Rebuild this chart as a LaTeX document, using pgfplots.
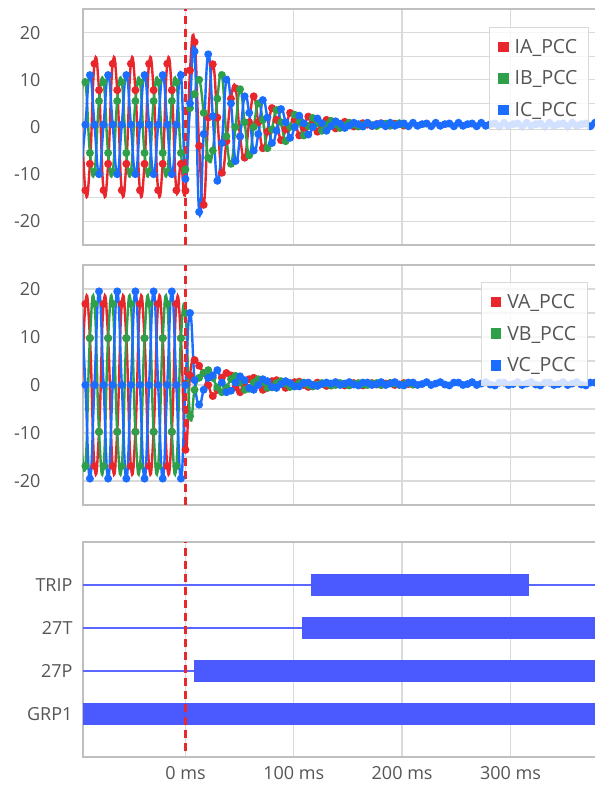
\documentclass[border=0pt]{standalone}
\usepackage{fontspec}
\setmainfont{Open Sans}
\usepackage{pgfplots}
\pgfplotsset{compat=1.18}
\definecolor{cRed}{HTML}{E8262B}
\definecolor{cGreen}{HTML}{2EA04A}
\definecolor{cBlue}{HTML}{1A6DFF}
\definecolor{cBar}{HTML}{4B5AFF}
\definecolor{cThin}{HTML}{5A68FF}
\definecolor{cGrid}{HTML}{DADADA}
\definecolor{cFrame}{HTML}{BFBFBF}
\definecolor{cTick}{HTML}{555555}
\definecolor{cDash}{HTML}{E8282B}

\pgfplotsset{
  panel/.style={scale only axis, width=515bp, xmin=-94.6, xmax=380.8,
    xtick={0,100,200,300}, tick style={draw=none},
    axis line style={cFrame, line width=1.5bp},
    major grid style={cGrid, line width=1.3bp},
    minor grid style={cGrid, line width=1.3bp},
    ticklabel style={font=\fontsize{18bp}{21bp}\selectfont, text=cTick}},
  wave/.style={panel, ymin=-25, ymax=25, xticklabels={},
    ytick={-20,-10,0,10,20}, yticklabels={-20,-10,0,10,20},
    minor ytick={-15,-5,5,15}, grid=both,
    yticklabel style={xshift=-39bp},
    legend cell align=left,
    legend image code/.code={\fill[#1, fill opacity=1] (0bp,-4.8bp) rectangle (9.6bp,4.8bp);},
    legend style={anchor=north east, draw=black!15, line width=1bp,
      fill=white, fill opacity=0.8, text opacity=1,
      font=\fontsize{19.5bp}{22bp}\selectfont, text=cTick,
      inner xsep=9bp, inner ysep=10bp, row sep=12bp,
      /tikz/every odd column/.append style={column sep=4bp}}},
  ser/.style={#1, line width=2.4bp, smooth, tension=0.8, mark=*, mark size=2.7bp,
    mark options={draw=#1, fill=#1}, forget plot},
  zero/.style={cDash, line width=2.2bp, dash pattern=on 8bp off 5bp, forget plot},
}

\begin{document}
\begin{tikzpicture}

% currents
\begin{axis}[wave, at={(83bp,542bp)}, anchor=south west, height=236bp,
  legend style={at={(0.9825,0.925)}}]
\addlegendimage{cRed}\addlegendentry{IA\_PCC}
\addlegendimage{cGreen}\addlegendentry{IB\_PCC}
\addlegendimage{cBlue}\addlegendentry{IC\_PCC}
\addplot[ser=cRed] coordinates {(-96.6,7.8)(-92.4,-13.4)(-88.2,-7.8)(-84,13.4)(-79.8,7.8)(-75.6,-13.4)(-71.4,-7.8)(-67.2,13.4)(-63,7.8)(-58.8,-13.4)(-54.6,-7.8)(-50.4,13.4)(-46.2,7.8)(-42,-13.4)(-37.8,-7.8)(-33.6,13.4)(-29.4,7.8)(-25.2,-13.4)(-21,-7.8)(-16.8,13.4)(-12.6,7.8)(-8.4,-13.4)(-4.2,-7.8)
(0,-13.5)(4.2,12)(8.4,18)(12.6,-4)(16.8,-16.5)(21,2)(25.2,13.3)(29.4,2)(33.6,-9.7)(37.8,-3)(42,6)(46.2,8.2)(50.4,-2)(54.6,-6.5)(58.8,1)(63,6.5)(67.2,1)(71.4,-4.5)(75.6,-1)(79.8,4)(84,1.5)(88.2,-2.8)(92.4,-0.5)(96.6,3)(100.8,1.5)(105,-1.8)(109.2,-0.2)(113.4,2.2)(117.6,1)(121.8,-1)(126,0)(130.2,1.5)(134.4,0.8)(138.6,-0.3)(142.8,0.2)(147,1.1)(151.2,0.7)(155.4,0.1)(159.6,0.4)(163.8,0.8)(168,0.5)(172.2,0.2)(176.4,0.6)(180.6,0.8)(184.8,0.3)(189,0.3)(193.2,0.7)(197.4,0.6)(201.6,0.3)};
\addplot[ser=cGreen] coordinates {(-96.6,5.5)(-92.4,9.5)(-88.2,-5.5)(-84,-9.5)(-79.8,5.5)(-75.6,9.5)(-71.4,-5.5)(-67.2,-9.5)(-63,5.5)(-58.8,9.5)(-54.6,-5.5)(-50.4,-9.5)(-46.2,5.5)(-42,9.5)(-37.8,-5.5)(-33.6,-9.5)(-29.4,5.5)(-25.2,9.5)(-21,-5.5)(-16.8,-9.5)(-12.6,5.5)(-8.4,9.5)(-4.2,-5.5)
(0,-9)(4.2,4)(8.4,7)(12.6,10)(16.8,3)(21,-6.5)(25.2,-5)(29.4,6)(33.6,11)(37.8,-2)(42,-7.8)(46.2,0)(50.4,8)(54.6,1)(58.8,-6)(63,0)(67.2,5)(71.4,1.5)(75.6,-4.5)(79.8,-0.5)(84,3.6)(88.2,1)(92.4,-3)(96.6,0)(100.8,2.6)(105,1)(109.2,-1.8)(113.4,0.2)(117.6,1.9)(121.8,0.8)(126,-0.8)(130.2,0.4)(134.4,1.3)(138.6,0.6)(142.8,-0.2)(147,0.3)(151.2,0.9)(155.4,0.5)(159.6,0.1)(163.8,0.4)(168,0.8)(172.2,0.4)(176.4,0.2)(180.6,0.6)(184.8,0.7)(189,0.3)(193.2,0.4)(197.4,0.8)(201.6,0.5)};
\addplot[ser=cBlue] coordinates {(-96.6,-10)(-92.4,0.5)(-88.2,11)(-84,0.5)(-79.8,-10)(-75.6,0.5)(-71.4,11)(-67.2,0.5)(-63,-10)(-58.8,0.5)(-54.6,11)(-50.4,0.5)(-46.2,-10)(-42,0.5)(-37.8,11)(-33.6,0.5)(-29.4,-10)(-25.2,0.5)(-21,11)(-16.8,0.5)(-12.6,-10)(-8.4,0.5)(-4.2,11)
(0,-11)(4.2,5)(8.4,16)(12.6,-18)(16.8,-1.5)(21,15.4)(25.2,2.3)(29.4,-11.4)(33.6,-3.4)(37.8,10)(42,5)(46.2,-7.2)(50.4,-2)(54.6,6.5)(58.8,3)(63,-5)(67.2,-1.5)(71.4,5.7)(75.6,2)(79.8,-3.4)(84,-0.8)(88.2,3.8)(92.4,1)(96.6,-2.3)(100.8,0)(105,2.4)(109.2,0.8)(113.4,-1.6)(117.6,0)(121.8,1.8)(126,0.8)(130.2,-0.8)(134.4,0.2)(138.6,1.2)(142.8,0.7)(147,-0.2)(151.2,0.3)(155.4,0.9)(159.6,0.6)(163.8,0.1)
(168,0.9)(172.2,0.25)(176.4,0.6)(180.6,0.75)(184.8,0.15)(189,0.9)(193.2,0.25)(197.4,0.6)(201.6,0.75)(205.8,0.15)(210,0.9)(214.2,0.25)(218.4,0.6)(222.6,0.75)(226.8,0.15)(231,0.9)(235.2,0.25)(239.4,0.6)(243.6,0.75)(247.8,0.15)(252,0.9)(256.2,0.25)(260.4,0.6)(264.6,0.75)(268.8,0.15)(273,0.9)(277.2,0.25)(281.4,0.6)(285.6,0.75)(289.8,0.15)(294,0.9)(298.2,0.25)(302.4,0.6)(306.6,0.75)(310.8,0.15)(315,0.9)(319.2,0.25)(323.4,0.6)(327.6,0.75)(331.8,0.15)(336,0.9)(340.2,0.25)(344.4,0.6)(348.6,0.75)(352.8,0.15)(357,0.9)(361.2,0.25)(365.4,0.6)(369.6,0.75)(373.8,0.15)(378,0.9)(382.2,0.25)};
\addplot[zero] coordinates {(0,-25) (0,25)};
\end{axis}

% voltages
\begin{axis}[wave, at={(83bp,282bp)}, anchor=south west, height=240bp,
  legend style={at={(0.98,0.93)}}]
\addlegendimage{cRed}\addlegendentry{VA\_PCC}
\addlegendimage{cGreen}\addlegendentry{VB\_PCC}
\addlegendimage{cBlue}\addlegendentry{VC\_PCC}
\addplot[ser=cRed] coordinates {(-96.6,-9.75)(-92.4,16.9)(-88.2,9.75)(-84,-16.9)(-79.8,-9.75)(-75.6,16.9)(-71.4,9.75)(-67.2,-16.9)(-63,-9.75)(-58.8,16.9)(-54.6,9.75)(-50.4,-16.9)(-46.2,-9.75)(-42,16.9)(-37.8,9.75)(-33.6,-16.9)(-29.4,-9.75)(-25.2,16.9)(-21,9.75)(-16.8,-16.9)(-12.6,-9.75)(-8.4,16.9)(-4.2,9.75)
(0,-13.5)(4.2,2)(8.4,5.2)(12.6,4)(16.8,2.5)(21,0)(25.2,-2.3)(29.4,-1)(33.6,1.5)(37.8,2.5)(42,2)(46.2,-0.5)(50.4,-1.5)(54.6,-0.5)(58.8,1.2)(63,1.5)(67.2,0.2)(71.4,-1)(75.6,-0.6)(79.8,0.8)(84,1)(88.2,0.2)(92.4,-0.6)(96.6,-0.2)(100.8,0.6)(105,0.7)(109.2,0)(113.4,-0.4)(117.6,0)(121.8,0.5)(126,0.3)(130.2,-0.2)(134.4,-0.1)(138.6,0.4)(142.8,0.3)(147,-0.1)(151.2,0.1)(155.4,0.4)(159.6,0.2)(163.8,-0.1)(168,0.2)(172.2,0.4)(176.4,0.1)(180.6,0)(184.8,0.3)(189,0.4)(193.2,0)(197.4,0.1)(201.6,0.4)(205.8,0.2)(210,0.1)};
\addplot[ser=cGreen] coordinates {(-96.6,-9.75)(-92.4,-16.9)(-88.2,9.75)(-84,16.9)(-79.8,-9.75)(-75.6,-16.9)(-71.4,9.75)(-67.2,16.9)(-63,-9.75)(-58.8,-16.9)(-54.6,9.75)(-50.4,16.9)(-46.2,-9.75)(-42,-16.9)(-37.8,9.75)(-33.6,16.9)(-29.4,-9.75)(-25.2,-16.9)(-21,9.75)(-16.8,16.9)(-12.6,-9.75)(-8.4,-16.9)(-4.2,9.75)
(0,15)(4.2,-6.5)(8.4,-1)(12.6,1.5)(16.8,2.5)(21,3.1)(25.2,1.5)(29.4,-0.5)(33.6,-1.5)(37.8,-0.5)(42,1.2)(46.2,1.9)(50.4,0.5)(54.6,-1)(58.8,-0.8)(63,0.5)(67.2,1.2)(71.4,0.6)(75.6,-0.6)(79.8,-0.5)(84,0.4)(88.2,0.8)(92.4,0.3)(96.6,-0.4)(100.8,-0.2)(105,0.4)(109.2,0.5)(113.4,0)(117.6,-0.3)(121.8,0.1)(126,0.4)(130.2,0.3)(134.4,-0.1)(138.6,0)(142.8,0.4)(147,0.2)(151.2,-0.1)(155.4,0.2)(159.6,0.4)(163.8,0.1)(168,0)(172.2,0.3)(176.4,0.4)(180.6,0)(184.8,0.1)(189,0.4)(193.2,0.3)(197.4,0)(201.6,0.2)(205.8,0.4)(210,0.1)};
\addplot[ser=cBlue] coordinates {(-96.6,19.5)(-92.4,0)(-88.2,-19.5)(-84,0)(-79.8,19.5)(-75.6,0)(-71.4,-19.5)(-67.2,0)(-63,19.5)(-58.8,0)(-54.6,-19.5)(-50.4,0)(-46.2,19.5)(-42,0)(-37.8,-19.5)(-33.6,0)(-29.4,19.5)(-25.2,0)(-21,-19.5)(-16.8,0)(-12.6,19.5)(-8.4,0)(-4.2,-19.5)
(0,0)(4.2,15)(8.4,1)(12.6,-4.1)(16.8,-1)(21,1.5)(25.2,2)(29.4,3.1)(33.6,0.5)(37.8,-1.5)(42,-1.2)(46.2,0.5)(50.4,1.8)(54.6,1)(58.8,-0.6)(63,-1)(67.2,0)(71.4,1.2)(75.6,0.8)(79.8,-0.4)(84,-0.6)(88.2,0.2)(92.4,0.8)(96.6,0.4)(100.8,-0.3)(105,-0.3)(109.2,0.4)(113.4,0.5)(117.6,0)(121.8,-0.2)(126,0.2)(130.2,0.5)(134.4,0.3)
(138.6,0.6)(142.8,0)(147,0.3)(151.2,0.6)(155.4,0.1)(159.6,-0.1)(163.8,0.5)(168,0.5)(172.2,0)(176.4,0.2)(180.6,0.6)(184.8,0)(189,0.3)(193.2,0.6)(197.4,0.1)(201.6,-0.1)(205.8,0.5)(210,0.5)(214.2,0)(218.4,0.2)(222.6,0.6)(226.8,0)(231,0.3)(235.2,0.6)(239.4,0.1)(243.6,-0.1)(247.8,0.5)(252,0.5)(256.2,0)(260.4,0.2)(264.6,0.6)(268.8,0)(273,0.3)(277.2,0.6)(281.4,0.1)(285.6,-0.1)(289.8,0.5)(294,0.5)(298.2,0)(302.4,0.2)(306.6,0.6)(310.8,0)(315,0.3)(319.2,0.6)(323.4,0.1)(327.6,-0.1)(331.8,0.5)(336,0.5)(340.2,0)(344.4,0.2)(348.6,0.6)(352.8,0)(357,0.3)(361.2,0.6)(365.4,0.1)(369.6,-0.1)(373.8,0.5)(378,0.5)(382.2,0)};
\addplot[zero] coordinates {(0,-25) (0,25)};
\end{axis}

% digital channels
\begin{axis}[panel, at={(83bp,30bp)}, anchor=south west, height=215bp,
  ymin=0, ymax=5, ytick={1,2,3,4}, yticklabels={GRP1,27P,27T,TRIP},
  xticklabels={0 ms,100 ms,200 ms,300 ms}, xmajorgrids,
  yticklabel style={xshift=-7bp}, xticklabel style={yshift=-6bp}]
\addplot[cThin, line width=2.2bp] coordinates {(-100,4) (116,4)};
\addplot[cThin, line width=2.2bp] coordinates {(317,4) (390,4)};
\addplot[cThin, line width=2.2bp] coordinates {(-100,3) (108,3)};
\addplot[cThin, line width=2.2bp] coordinates {(-100,2) (8,2)};
\addplot[fill=cBar, draw=none] coordinates {(116,3.735) (317,3.735) (317,4.265) (116,4.265)} --cycle;
\addplot[fill=cBar, draw=none] coordinates {(107.5,2.735) (390,2.735) (390,3.265) (107.5,3.265)} --cycle;
\addplot[fill=cBar, draw=none] coordinates {(7.8,1.735) (390,1.735) (390,2.265) (7.8,2.265)} --cycle;
\addplot[fill=cBar, draw=none] coordinates {(-100,0.735) (390,0.735) (390,1.265) (-100,1.265)} --cycle;
\addplot[zero] coordinates {(0,0.15) (0,5)};
\end{axis}

\pgfresetboundingbox
\path (0,0) rectangle (595bp,787bp);
\end{tikzpicture}
\end{document}
